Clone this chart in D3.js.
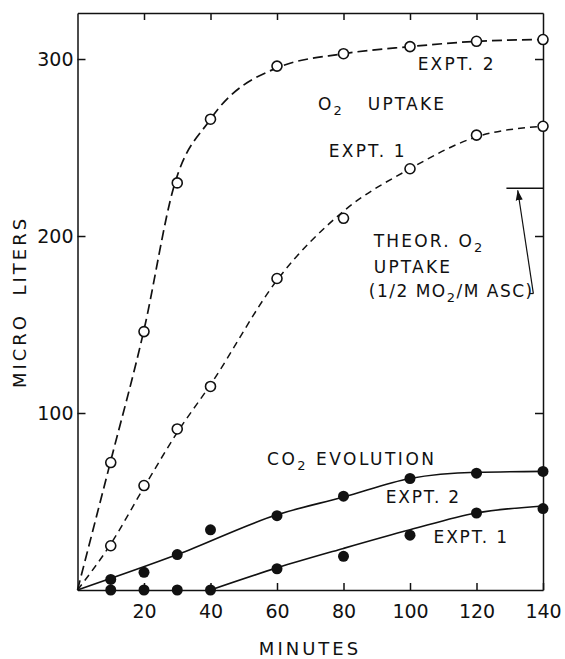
<!DOCTYPE html>
<html>
<head>
<meta charset="utf-8">
<script src="https://cdn.jsdelivr.net/npm/d3@7"></script>
<style>
  body { margin: 0; background: #fff; }
  svg { display: block; }
  text { font-family: "DejaVu Sans", sans-serif; fill: #111; }
  .axis path, .axis line { stroke: #111; stroke-width: 1.5; }
  .axis text { font-size: 19px; fill: #111; }
  .lbl { font-size: 17px; letter-spacing: 2.2px; white-space: pre; }
</style>
</head>
<body>
<svg id="chart" width="565" height="659"></svg>
<script>
// measured points
const minutes = [10, 20, 30, 40, 60, 80, 100, 120, 140];
const o2Expt2 = [72, 146, 230, 266, 296, 303, 307, 310, 311];
const o2Expt1 = [25, 59, 91, 115, 176, 210, 238, 257, 262];
const co2Expt2 = [6, 10, 20, 34, 42, 53, 63, 66, 67];
const co2Expt1 = [0, 0, 0, 0, 12, 19, 31, 43.5, 46];

// hand drawn fitted lines
const o2Expt2FitX = [0, 10, 20, 29, 40, 60, 80, 100, 120, 140];
const o2Expt2FitY = [0, 73, 147, 228, 266, 295, 303, 307, 310, 311];
const o2Expt1FitX = [0, 10, 20, 30, 40, 60, 80, 100, 120, 140];
const o2Expt1FitY = [0, 26, 58, 89, 116, 175, 214, 238, 256, 262];
const co2Expt2FitX = [0, 30, 60, 80, 100, 120, 140];
const co2Expt2FitY = [0, 20, 42.5, 52.5, 63, 66.5, 67];
const co2Expt1FitX = [40, 60, 80, 100, 120, 140];
const co2Expt1FitY = [0, 12.5, 23.5, 34, 43.5, 47.5];

const theorUptake = 227;
const xTicks = [20, 40, 60, 80, 100, 120, 140];
const yTicks = [100, 200, 300];

const svg = d3.select("#chart");
const x = d3.scaleLinear().domain([0, 140]).range([77.5, 543]);
const y = d3.scaleLinear().domain([0, 326]).range([590, 13]);

// frame + ticks (all ticks point inward)
svg.append("g").attr("class", "axis")
  .attr("transform", `translate(0,${y(0)})`)
  .call(d3.axisBottom(x).tickValues(xTicks).tickSizeInner(-7).tickSizeOuter(0).tickPadding(15));
svg.append("g").attr("class", "axis")
  .attr("transform", `translate(${x(0)},0)`)
  .call(d3.axisLeft(y).tickValues(yTicks).tickSizeInner(-8).tickSizeOuter(0).tickPadding(4));
svg.append("g").attr("class", "axis")
  .attr("transform", `translate(0,${y(326)})`)
  .call(d3.axisTop(x).tickValues(xTicks.slice(0, -1)).tickSizeInner(-7).tickSizeOuter(0).tickFormat(""));
svg.append("g").attr("class", "axis")
  .attr("transform", `translate(${x(140)},0)`)
  .call(d3.axisRight(y).tickValues(yTicks).tickSizeInner(-8).tickSizeOuter(0).tickFormat(""));

const line = d3.line().x((d) => x(d[0])).y((d) => y(d[1])).curve(d3.curveMonotoneX);
const pairs = (xs, ys) => xs.map((v, i) => [v, ys[i]]);

svg.append("path").datum(pairs(o2Expt2FitX, o2Expt2FitY))
  .attr("d", line).attr("fill", "none").attr("stroke", "#111")
  .attr("stroke-width", 1.7).attr("stroke-dasharray", "10,5");
svg.append("path").datum(pairs(o2Expt1FitX, o2Expt1FitY))
  .attr("d", line).attr("fill", "none").attr("stroke", "#111")
  .attr("stroke-width", 1.5).attr("stroke-dasharray", "7,5");
svg.append("path").datum(pairs(co2Expt2FitX, co2Expt2FitY))
  .attr("d", line).attr("fill", "none").attr("stroke", "#111").attr("stroke-width", 1.6);
svg.append("path").datum(pairs(co2Expt1FitX, co2Expt1FitY))
  .attr("d", line).attr("fill", "none").attr("stroke", "#111").attr("stroke-width", 1.6);

// open circles: O2 uptake
[o2Expt2, o2Expt1].forEach((series) => {
  svg.append("g").selectAll("circle")
    .data(pairs(minutes, series)).enter().append("circle")
    .attr("cx", (d) => x(d[0])).attr("cy", (d) => y(d[1])).attr("r", 5)
    .attr("fill", "#fff").attr("stroke", "#111").attr("stroke-width", 1.6);
});
// filled circles: CO2 evolution
[co2Expt2, co2Expt1].forEach((series) => {
  svg.append("g").selectAll("circle")
    .data(pairs(minutes, series)).enter().append("circle")
    .attr("cx", (d) => x(d[0])).attr("cy", (d) => y(d[1])).attr("r", 5.5)
    .attr("fill", "#111");
});

// theoretical O2 uptake marker + arrow
svg.append("defs").append("marker")
  .attr("id", "head").attr("viewBox", "0 0 10 10").attr("refX", 10).attr("refY", 5)
  .attr("markerWidth", 10).attr("markerHeight", 10).attr("markerUnits", "userSpaceOnUse")
  .attr("orient", "auto")
  .append("path").attr("d", "M0,1.5 L10,5 L0,8.5 Z").attr("fill", "#111");
svg.append("line")
  .attr("x1", x(129)).attr("x2", x(140)).attr("y1", y(theorUptake)).attr("y2", y(theorUptake))
  .attr("stroke", "#111").attr("stroke-width", 1.5);
svg.append("line")
  .attr("x1", x(137.1)).attr("y1", y(167.5)).attr("x2", x(132.4)).attr("y2", y(theorUptake) + 2)
  .attr("stroke", "#111").attr("stroke-width", 1.2).attr("marker-end", "url(#head)");
svg.append("line")
  .attr("x1", x(136.1)).attr("x2", x(137.1)).attr("y1", y(167.5)).attr("y2", y(167.5))
  .attr("stroke", "#111").attr("stroke-width", 1.2);

// labels
const label = (xv, yv, parts, spacing) => {
  const t = svg.append("text").attr("class", "lbl").attr("x", x(xv)).attr("y", y(yv));
  if (spacing !== undefined) t.style("letter-spacing", `${spacing}px`);
  parts.forEach((p) => {
    if (p.sub) {
      t.append("tspan").attr("dy", 5).style("font-size", "13px").text(p.sub);
      t.append("tspan").attr("dy", -5).text(p.after || "");
    } else {
      t.append("tspan").text(p.t);
    }
  });
  return t;
};
label(102.3, 293.8, [{ t: "EXPT. 2" }]);
label(72.3, 271.2, [{ t: "O" }, { sub: "2" }]);
label(87.3, 271.2, [{ t: "UPTAKE" }]);
label(75.6, 244.8, [{ t: "EXPT. 1" }]);
label(89.1, 194, [{ t: "THEOR. O" }, { sub: "2" }]);
label(89.1, 178.9, [{ t: "UPTAKE" }]);
label(87.6, 165.5, [{ t: "(1/2 MO" }, { sub: "2", after: "/M ASC)" }], 1.5);
label(57, 70.6, [{ t: "CO" }, { sub: "2", after: " EVOLUTION" }], 2.5);
label(92.7, 49.3, [{ t: "EXPT. 2" }], 1.8);
label(107.1, 26.4, [{ t: "EXPT. 1" }], 1.8);

svg.append("text").attr("class", "lbl").attr("text-anchor", "middle")
  .attr("x", 310).attr("y", 655)
  .style("font-size", "18px").style("letter-spacing", "3px").text("MINUTES");
svg.append("text").attr("class", "lbl").attr("text-anchor", "middle")
  .attr("transform", "translate(26,302) rotate(-90)")
  .style("font-size", "18px").style("letter-spacing", "3px").text("MICRO  LITERS");
</script>
</body>
</html>
